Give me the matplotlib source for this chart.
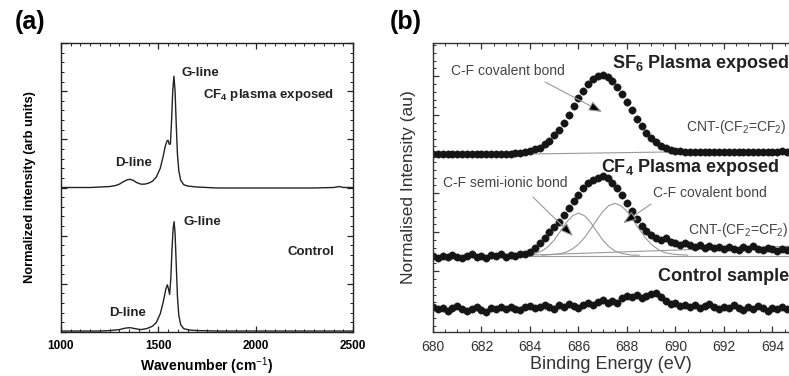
import numpy as np
import matplotlib
matplotlib.use("Agg")
import matplotlib.pyplot as plt
from matplotlib.ticker import MultipleLocator, NullFormatter

plt.rcParams['font.family'] = ['Liberation Sans', 'DejaVu Sans']
plt.rcParams['mathtext.fontset'] = 'custom'
plt.rcParams['mathtext.rm'] = 'Liberation Sans'
plt.rcParams['mathtext.it'] = 'Liberation Sans:italic'
plt.rcParams['mathtext.bf'] = 'Liberation Sans:bold'

# ---------------- Panel (a): Raman spectra ----------------
raman_cf4_x = [1000, 1050, 1100, 1150, 1200, 1250, 1280, 1300, 1320, 1340, 1355, 1370, 1390,
               1410, 1430, 1450, 1470, 1490, 1510, 1525, 1535, 1545, 1550, 1556, 1562, 1568,
               1574, 1580, 1586, 1592, 1598, 1605, 1615, 1630, 1650, 1700, 1800, 1900, 2000,
               2100, 2200, 2300, 2400, 2430, 2450, 2500]
raman_cf4_y = [3.00, 3.00, 3.00, 3.00, 3.01, 3.02, 3.04, 3.07, 3.12, 3.16, 3.17, 3.15, 3.10,
               3.07, 3.07, 3.09, 3.13, 3.22, 3.40, 3.65, 3.85, 3.97, 3.98, 3.90, 3.90, 4.40,
               5.00, 5.31, 5.00, 4.30, 3.70, 3.35, 3.15, 3.06, 3.03, 3.01, 2.99, 2.99, 2.99,
               2.99, 2.99, 2.99, 3.00, 3.02, 3.00, 3.00]

raman_ctrl_x = [1000, 1100, 1200, 1250, 1300, 1330, 1355, 1380, 1410, 1440, 1470, 1490, 1510,
                1525, 1538, 1546, 1552, 1558, 1564, 1570, 1576, 1581, 1586, 1592, 1598, 1605,
                1615, 1630, 1660, 1700, 1800, 1900, 2000, 2100, 2200, 2300, 2400, 2500]
raman_ctrl_y = [0.02, 0.02, 0.02, 0.03, 0.05, 0.08, 0.09, 0.07, 0.05, 0.07, 0.12, 0.20, 0.38,
                0.62, 0.88, 0.98, 0.90, 0.78, 1.10, 1.70, 2.15, 2.29, 2.05, 1.40, 0.75, 0.35,
                0.15, 0.07, 0.04, 0.03, 0.02, 0.02, 0.02, 0.02, 0.02, 0.02, 0.02, 0.02]

# ---------------- Panel (b): XPS F1s spectra ----------------
xps_x = [680.0, 680.2, 680.4, 680.6, 680.8, 681.0, 681.2, 681.4, 681.6, 681.8,
         682.0, 682.2, 682.4, 682.6, 682.8, 683.0, 683.2, 683.4, 683.6, 683.8,
         684.0, 684.2, 684.4, 684.6, 684.8, 685.0, 685.2, 685.4, 685.6, 685.8,
         686.0, 686.2, 686.4, 686.6, 686.8, 687.0, 687.2, 687.4, 687.6, 687.8,
         688.0, 688.2, 688.4, 688.6, 688.8, 689.0, 689.2, 689.4, 689.6, 689.8,
         690.0, 690.2, 690.4, 690.6, 690.8, 691.0, 691.2, 691.4, 691.6, 691.8,
         692.0, 692.2, 692.4, 692.6, 692.8, 693.0, 693.2, 693.4, 693.6, 693.8,
         694.0, 694.2, 694.4, 694.6]

xps_sf6 = [4.00, 4.00, 4.01, 4.00, 4.00, 4.01, 4.00, 4.00, 4.01, 4.00,
           4.00, 4.01, 4.00, 4.00, 4.00, 4.01, 4.01, 4.02, 4.03, 4.05,
           4.08, 4.12, 4.17, 4.25, 4.35, 4.48, 4.63, 4.81, 5.01, 5.23,
           5.44, 5.63, 5.80, 5.93, 6.00, 6.02, 5.97, 5.87, 5.72, 5.54,
           5.33, 5.12, 4.91, 4.72, 4.55, 4.41, 4.30, 4.21, 4.15, 4.11,
           4.08, 4.07, 4.06, 4.06, 4.05, 4.05, 4.05, 4.05, 4.05, 4.05,
           4.05, 4.06, 4.05, 4.05, 4.06, 4.05, 4.06, 4.06, 4.05, 4.06,
           4.06, 4.06, 4.07, 4.06]

xps_cf4 = [1.38, 1.33, 1.40, 1.36, 1.42, 1.37, 1.33, 1.39, 1.43, 1.36,
           1.40, 1.35, 1.41, 1.38, 1.44, 1.37, 1.41, 1.39, 1.45, 1.43,
           1.50, 1.60, 1.72, 1.86, 2.00, 2.14, 2.27, 2.44, 2.62, 2.80,
           2.96, 3.12, 3.25, 3.34, 3.40, 3.43, 3.38, 3.27, 3.12, 2.95,
           2.74, 2.55, 2.35, 2.16, 2.02, 1.93, 1.86, 1.80, 1.84, 1.76,
           1.72, 1.68, 1.73, 1.66, 1.62, 1.67, 1.60, 1.64, 1.59, 1.63,
           1.57, 1.62, 1.58, 1.55, 1.61, 1.58, 1.64, 1.57, 1.53, 1.60,
           1.56, 1.52, 1.58, 1.55]

xps_ctrl = [0.08, 0.02, 0.06, -0.01, 0.05, 0.10, 0.03, -0.03, 0.04, 0.08,
            0.00, -0.05, 0.05, 0.02, 0.07, 0.03, 0.09, 0.04, 0.00, 0.07,
            0.11, 0.05, 0.08, 0.14, 0.09, 0.04, 0.12, 0.08, 0.16, 0.10,
            0.06, 0.13, 0.19, 0.12, 0.22, 0.27, 0.19, 0.24, 0.18, 0.30,
            0.36, 0.33, 0.38, 0.31, 0.36, 0.42, 0.44, 0.35, 0.24, 0.15,
            0.19, 0.10, 0.14, 0.08, 0.13, 0.05, 0.10, 0.15, 0.07, 0.02,
            0.09, 0.05, 0.12, 0.06, 0.01, 0.08, 0.04, 0.10, 0.05, -0.02,
            0.06, 0.03, 0.08, 0.02]

# fitted components (grey lines)
semi_x = [683.5, 683.75, 684.0, 684.25, 684.5, 684.75, 685.0, 685.25, 685.5, 685.75,
          686.0, 686.25, 686.5, 686.75, 687.0, 687.25, 687.5, 687.75, 688.0, 688.25, 688.5]
semi_y = [1.41, 1.41, 1.43, 1.46, 1.52, 1.63, 1.80, 2.02, 2.25, 2.42,
          2.49, 2.42, 2.25, 2.02, 1.80, 1.63, 1.52, 1.46, 1.43, 1.41, 1.41]
cov_x = [684.5, 684.75, 685.0, 685.25, 685.5, 685.75, 686.0, 686.25, 686.5, 686.75,
         687.0, 687.25, 687.5, 687.75, 688.0, 688.25, 688.5, 688.75, 689.0, 689.25,
         689.5, 689.75, 690.0, 690.25, 690.5]
cov_y = [1.41, 1.42, 1.43, 1.45, 1.49, 1.57, 1.69, 1.86, 2.08, 2.31,
         2.53, 2.68, 2.74, 2.68, 2.53, 2.31, 2.08, 1.86, 1.69, 1.57,
         1.49, 1.45, 1.43, 1.42, 1.41]
sf6_bg_x = [683.5, 694.7]
sf6_bg_y = [4.00, 4.10]
cf4_bg_x = [683.9, 694.7]
cf4_bg_y = [1.41, 1.64]
cf4_flat_x = [683.5, 694.7]
cf4_flat_y = [1.40, 1.40]

fig = plt.figure(figsize=(7.89, 3.76), dpi=100)

# ---------- (a) ----------
axa = fig.add_axes([61/789, 44/376, 292/789, 289/376])
axa.plot(raman_cf4_x, raman_cf4_y, color='#222222', lw=1.0)
axa.plot(raman_ctrl_x, raman_ctrl_y, color='#222222', lw=1.0)
axa.set_xlim(1000, 2500)
axa.set_ylim(0, 6)
axa.xaxis.set_major_locator(MultipleLocator(500))
axa.xaxis.set_minor_locator(MultipleLocator(50))
axa.yaxis.set_major_locator(MultipleLocator(1))
axa.yaxis.set_minor_locator(MultipleLocator(0.2))
axa.yaxis.set_major_formatter(NullFormatter())
axa.tick_params(which='both', direction='in', top=True, right=True, color='#222222')
axa.tick_params(which='major', length=4, width=0.9, labelsize=8.5, pad=6)
axa.tick_params(which='minor', length=2, width=0.7)
for lab in axa.get_xticklabels():
    lab.set_fontweight('bold')
for s in axa.spines.values():
    s.set_color('#222222')
    s.set_linewidth(1.0)
axa.set_xlabel('Wavenumber (cm$^{-1}$)', fontsize=10, fontweight='bold', labelpad=2)
axa.set_ylabel('Normalized intensity (arb units)', fontsize=9.3, fontweight='bold', labelpad=12)

tk = dict(fontsize=9.5, fontweight='bold', color='#222222', ha='left', va='center')
axa.text(1621, 5.38, 'G-line', **tk)
axa.text(1729, 4.92, r'CF$_\mathbf{4}$ plasma exposed', **tk)
axa.text(1277, 3.51, 'D-line', **tk)
axa.text(1627, 2.28, 'G-line', **tk)
axa.text(2166, 1.66, 'Control', **tk)
axa.text(1247, 0.39, 'D-line', **tk)

# ---------- (b) ----------
pxe = 24.25
x0b, x1b = 680, 694.7
wpx = (x1b - x0b) * pxe
axb = fig.add_axes([433/789, 44/376, wpx/789, 289/376])
grey = '#9a9a9a'
axb.plot(sf6_bg_x, sf6_bg_y, color=grey, lw=0.8)
axb.plot(cf4_flat_x, cf4_flat_y, color=grey, lw=0.8)
axb.plot(cf4_bg_x, cf4_bg_y, color=grey, lw=0.8)
axb.plot(semi_x, semi_y, color=grey, lw=0.8)
axb.plot(cov_x, cov_y, color=grey, lw=0.8)
mk = dict(ls='none', marker='o', ms=5.3, mfc='#151515', mec='#151515', mew=0.3)
axb.plot(xps_x, xps_sf6, **mk)
axb.plot(xps_x, xps_cf4, **mk)
axb.plot(xps_x, xps_ctrl, **mk)
axb.set_xlim(x0b, x1b)
axb.set_ylim(-0.56, 6.85)
axb.xaxis.set_major_locator(MultipleLocator(2))
axb.xaxis.set_minor_locator(MultipleLocator(0.5))
axb.yaxis.set_major_locator(MultipleLocator(1))
axb.yaxis.set_minor_locator(MultipleLocator(0.2))
axb.yaxis.set_major_formatter(NullFormatter())
axb.tick_params(which='both', direction='in', top=True, right=False, color='#333333')
axb.tick_params(which='major', length=4, width=0.9, labelsize=10, labelcolor='#333333', pad=6)
axb.tick_params(which='minor', length=2, width=0.7)
for s in axb.spines.values():
    s.set_color('#333333')
    s.set_linewidth(1.0)
axb.spines['right'].set_visible(False)
axb.set_xlabel('Binding Energy (eV)', fontsize=13, color='#333333', labelpad=1)
axb.set_ylabel('Normalised Intensity (au)', fontsize=12.5, color='#333333', labelpad=6)

bt = dict(fontsize=13, fontweight='bold', color='#222222', ha='left', va='center')
axb.text(687.38, 6.33, r'SF$_\mathbf{6}$ Plasma exposed', **bt)
axb.text(686.93, 3.67, r'CF$_\mathbf{4}$ Plasma exposed', **bt)
axb.text(689.28, 0.87, 'Control sample', **bt)

at = dict(fontsize=10, color='#444444', ha='left', va='center')
axb.text(680.74, 6.13, 'C-F covalent bond', **at)
axb.text(690.43, 4.69, r'CNT-(CF$_2$=CF$_2$)', **at)
axb.text(690.52, 2.05, r'CNT-(CF$_2$=CF$_2$)', **at)
axb.text(680.41, 3.26, 'C-F semi-ionic bond', **at)
axb.text(689.07, 3.00, 'C-F covalent bond', **at)

arr = dict(arrowstyle='-|>,head_length=0.8,head_width=0.3', lw=0.8,
           fc='black', ec=grey, shrinkA=0, shrinkB=0)
axb.annotate('', xy=(686.97, 5.08), xytext=(684.62, 5.85), arrowprops=arr)
axb.annotate('', xy=(685.77, 1.90), xytext=(684.12, 2.90), arrowprops=arr)
axb.annotate('', xy=(687.84, 2.23), xytext=(688.99, 2.72), arrowprops=arr)

fig.text(15/789, 1 - 22/376, '(a)', fontsize=18, fontweight='bold', ha='left', va='center')
fig.text(390/789, 1 - 22/376, '(b)', fontsize=18, fontweight='bold', ha='left', va='center')

fig.savefig('out.png', dpi=100)
